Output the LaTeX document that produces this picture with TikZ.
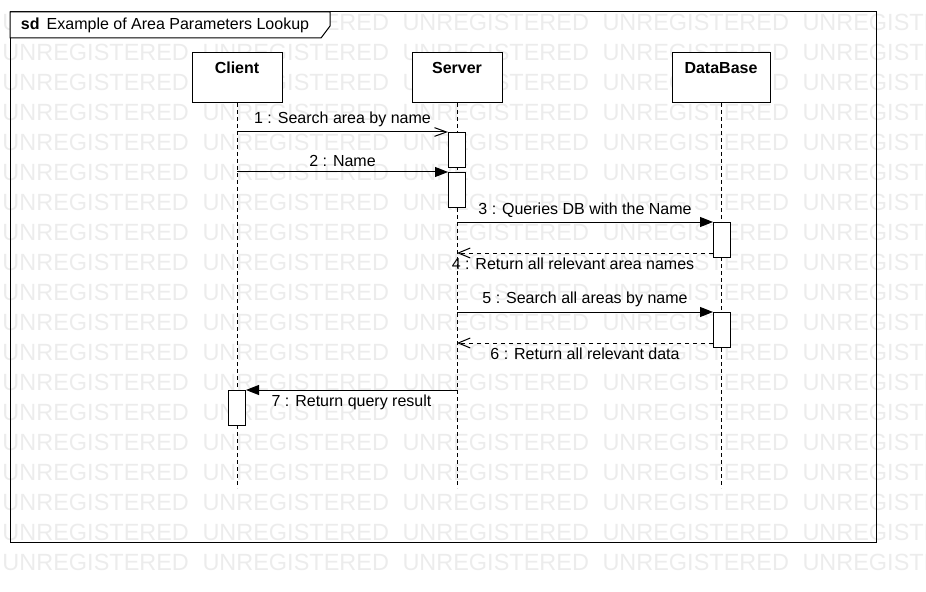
\documentclass[tikz,border=0pt]{standalone}
\usepackage{fontspec}
\setmainfont{Liberation Sans}
\usetikzlibrary{arrows.meta}
\definecolor{wmgray}{RGB}{236,236,236}
\tikzset{every node/.style={font=\fontsize{12}{14}\selectfont},
         lifebox/.style={draw,fill=white,anchor=north,font=\fontsize{12}{14}\selectfont\bfseries,
                         minimum width=67.5pt,inner sep=3pt,text height=12.75pt,text depth=18.75pt},
         actbar/.style={draw,fill=white,anchor=north,inner sep=0pt,minimum width=12.75pt,minimum height=26.25pt},
         lifeline/.style={dash pattern=on 3pt off 2.25pt},
         call/.style={-{Triangle[length=9.75pt,width=7.5pt]}},
         callopen/.style={-{Straight Barb[length=9pt,width=6.5pt]}},
         reply/.style={dash pattern=on 3pt off 3pt,-{Straight Barb[length=9pt,width=7.5pt]}},
         watermark/.style={anchor=west,inner sep=0pt,text=wmgray,font=\fontsize{17.6}{20}\selectfont},
         }
\begin{document}
\begin{tikzpicture}[x=0.75pt,y=-0.75pt,line width=0.75pt]
\useasboundingbox (0,0) rectangle (926,592);
\foreach \r in {0,...,18}
  \foreach \c in {0,...,4}
    \node[watermark] at (2+\c*200,22+\r*30) {UNREGISTERED};
\draw (10,12) rectangle (876,542);
\draw[fill=white] (10,12) -- (330,12) -- (330,26) -- (321,38) -- (10,38) -- cycle;
\node[anchor=west] (title) at (16,25) {\textbf{sd}\, Example of Area Parameters Lookup};
\node[lifebox] (client) at (237,52) {Client};
\node[lifebox] (server) at (457,52) {Server};
\node[lifebox,minimum width=73.5pt] (db) at (721,52) {DataBase};
\coordinate (bottom) at (0,488);
\draw[lifeline] (client.south) -- (client.south |- bottom);
\draw[lifeline] (server.south) -- (server.south |- bottom);
\draw[lifeline] (db.south) -- (db.south |- bottom);
\node[actbar] (sbar1) at (457,132) {};
\node[actbar] (sbar2) at (457,172) {};
\node[actbar] (dbar1) at (722,222) {};
\node[actbar] (dbar2) at (722,312) {};
\node[actbar] (cbar) at (237,390) {};
\coordinate (ret4) at ([yshift=3.75pt]dbar1.south west);
\coordinate (ret6) at ([yshift=3.75pt]dbar2.south west);
\draw[callopen] (client.south |- sbar1.north) -- node[above] {1 : Search area by name} (sbar1.north west);
\draw[call] (client.south |- sbar2.north) -- node[above] {2 : Name} (sbar2.north west);
\draw[call] (server.south |- dbar1.north) -- node[above] {3 : Queries DB with the Name} (dbar1.north west);
\draw[reply] (ret4) -- node[below,xshift=-9pt] {4 : Return all relevant area names} (server.south |- ret4);
\draw[call] (server.south |- dbar2.north) -- node[above] {5 : Search all areas by name} (dbar2.north west);
\draw[reply] (ret6) -- node[below] {6 : Return all relevant data} (server.south |- ret6);
\draw[call] (server.south |- cbar.north) -- node[below] {7 : Return query result} (cbar.north east);
\end{tikzpicture}
\end{document}
